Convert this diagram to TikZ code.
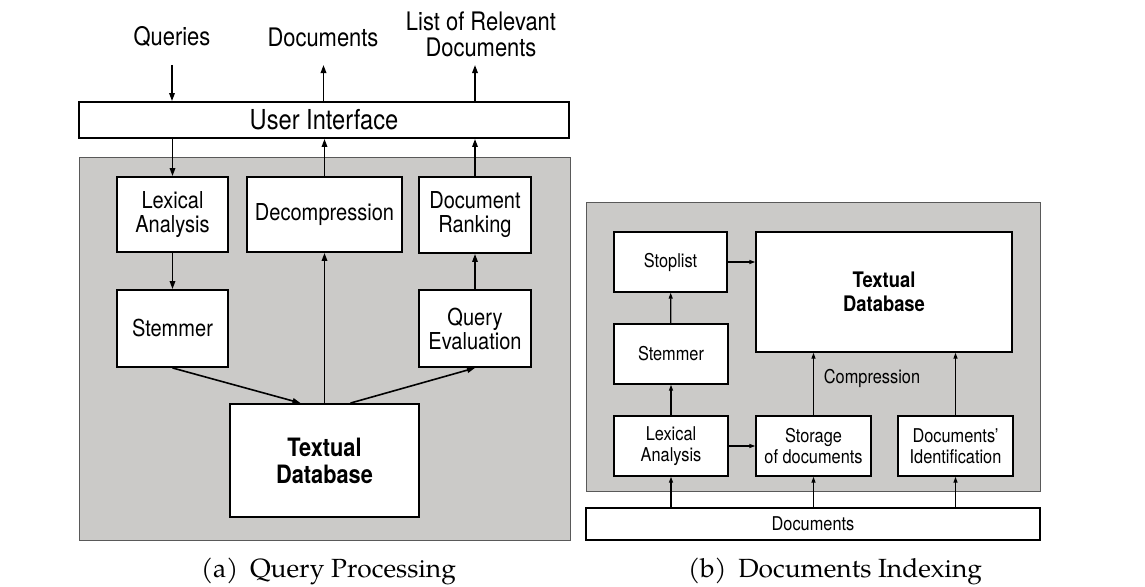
\documentclass[tikz,border=0pt]{standalone}
\usepackage{fontspec}
\newfontfamily\diagfont{TeX Gyre Heros}[FakeStretch=0.86]
\newfontfamily\capfont{texgyrepagella-regular.otf}
\usetikzlibrary{arrows.meta}
\definecolor{panelgray}{RGB}{203,202,200}
\begin{document}
\begin{tikzpicture}[x=1pt,y=-1pt,
	box/.style={draw,fill=white,line width=1.9pt,inner sep=0pt,align=center,
		font=\diagfont\fontsize{23.3}{24}\selectfont},
	boxb/.style={box,line width=1.4pt,minimum height=60pt,
		font=\diagfont\fontsize{19}{20.5}\selectfont},
	panel/.style={draw=black!65,fill=panelgray,line width=1pt},
	arr/.style={-{Triangle[length=8pt,width=5.5pt]},line width=1.6pt},
	arrb/.style={-{Triangle[length=6pt,width=4pt]},line width=1.2pt},
	lbl/.style={inner sep=0pt,align=center,font=\diagfont\fontsize{25.5}{26}\selectfont},
	captext/.style={inner sep=0pt,anchor=base,font=\capfont\fontsize{26.3}{30}\selectfont}]
\useasboundingbox (0,0) rectangle (1145,586);

% (a) query processing
\draw[panel] (79,157) rectangle (570,540);
\node[box,minimum width=490pt,minimum height=36pt,font=\diagfont\fontsize{27.5}{30}\selectfont] (ui) at (324,120) {User Interface};
\node[box,minimum width=111pt,minimum height=75pt] (lexA) at (172.5,214.5) {Lexical\\Analysis};
\node[box,minimum width=155pt,minimum height=75pt] (dec) at (324.5,214.5) {Decompression};
\node[box,minimum width=112pt,minimum height=76pt] (rank) at (475,215) {Document\\Ranking};
\node[box,minimum width=111pt,minimum height=77pt] (stemA) at (172.5,328.5) {Stemmer};
\node[box,minimum width=112pt,minimum height=77pt] (qeval) at (475,328.5) {Query\\Evaluation};
\node[box,minimum width=189pt,minimum height=113pt,font=\diagfont\bfseries\fontsize{25.3}{27}\selectfont] (dbA) at (324.5,460.5) {Textual\\Database};

\node[lbl,anchor=base] (queries) at (172,46) {Queries};
\node[lbl,anchor=base] (docsout) at (323,47) {Documents};
\node[lbl,anchor=south] (listout) at (481,57) {List of Relevant\\Documents};
\coordinate (qin) at (172,65);
\coordinate (dout) at (323.5,65);
\coordinate (lout) at (475,65);

\draw[arr] (qin) -- (qin |- ui.north);
\draw[arr] (ui.north -| dout) -- (dout);
\draw[arr] (ui.north -| lout) -- (lout);
\draw[arr] (ui.south -| lexA) -- (lexA.north);
\draw[arr] (dec.north) -- (dec.north |- ui.south);
\draw[arr] (rank.north) -- (rank.north |- ui.south);
\draw[arr] (lexA) -- (stemA);
\draw[arr] (qeval) -- (rank);
\draw[arr] (dbA) -- (dec);
\draw[arr] (stemA.south) -- ([xshift=-24pt]dbA.north);
\draw[arr] ([xshift=26pt]dbA.north) -- (qeval.south);

\node[captext] (capA) at (328.5,577) {(a)\hspace{0.45em}Query Processing};

% (b) documents indexing
\draw[panel] (586,202) rectangle (1040,491);
\node[boxb,minimum width=113pt] (stop) at (670.5,262) {Stoplist};
\node[boxb,minimum width=114pt] (stemB) at (671,354) {Stemmer};
\node[boxb,minimum width=114pt] (lexB) at (671,446) {Lexical\\Analysis};
\node[boxb,minimum width=256pt,minimum height=120pt,font=\diagfont\bfseries\fontsize{21.4}{24}\selectfont] (dbB) at (884,292) {Textual\\Database};
\node[boxb,minimum width=115pt] (store) at (813.5,446) {Storage\\of documents};
\node[boxb,minimum width=115pt] (docid) at (955.5,446) {Documents’\\Identification};
\node[boxb,minimum width=454pt,minimum height=32pt] (docbar) at (813,524) {Documents};
\node[lbl,font=\diagfont\fontsize{19}{21}\selectfont] (comp) at (872,378) {Compression};

\draw[arrb] (stop.east) -- (stop.east -| dbB.west);
\draw[arrb] (stemB) -- (stop);
\draw[arrb] (lexB) -- (stemB);
\draw[arrb] (lexB) -- (store);
\draw[arrb] (store.north) -- (store.north |- dbB.south);
\draw[arrb] (docid.north) -- (docid.north |- dbB.south);
\foreach \n in {lexB,store,docid}
	\draw[arrb] (docbar.north -| \n) -- (\n.south);

\node[captext] (capB) at (835,577) {(b)\hspace{0.45em}Documents Indexing};
\end{tikzpicture}
\end{document}
